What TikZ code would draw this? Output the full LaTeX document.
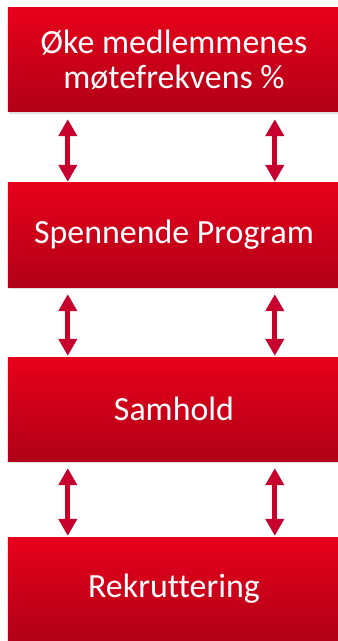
\documentclass[tikz,border=0pt]{standalone}
\usepackage{fontspec}
\setmainfont[Ligatures=NoCommon]{Carlito}
\usetikzlibrary{arrows.meta,shadows}
\definecolor{boxtop}{HTML}{E8001B}
\definecolor{boxbot}{HTML}{B00017}
\definecolor{linkred}{HTML}{C8002D}
\begin{document}
\begin{tikzpicture}[x=1bp, y=-1bp,
        goal/.style={rectangle, minimum width=332bp, minimum height=104bp, inner sep=0pt,
            top color=boxtop, bottom color=boxbot, text=white, align=center,
            font=\fontsize{34}{35}\selectfont,
            drop shadow={opacity=0.25, shadow xshift=1bp, shadow yshift=-2bp}},
        link/.style={linkred, line width=5bp,
            {Triangle[width=18bp,length=17bp]}-{Triangle[width=18bp,length=17bp]}}]
        \useasboundingbox (0,0) rectangle (337,641);

        \node[goal] (o1) at (174,60) {Øke medlemmenes\\møtefrekvens \%};
        \node[goal] (o2) at (174,235) {Spennende Program};
        \node[goal] (o3) at (174,409) {Samhold};
        \node[goal] (o4) at (174,589) {Rekruttering};

        % piler mellom boksene
        \foreach \a/\b in {o1/o2, o2/o3, o3/o4}
            \foreach \dx in {60,267}
                \draw[link] ([xshift=\dx bp, yshift=-7bp]\a.south west) -- ([xshift=\dx bp, yshift=1bp]\b.north west);
    \end{tikzpicture}
\end{document}
